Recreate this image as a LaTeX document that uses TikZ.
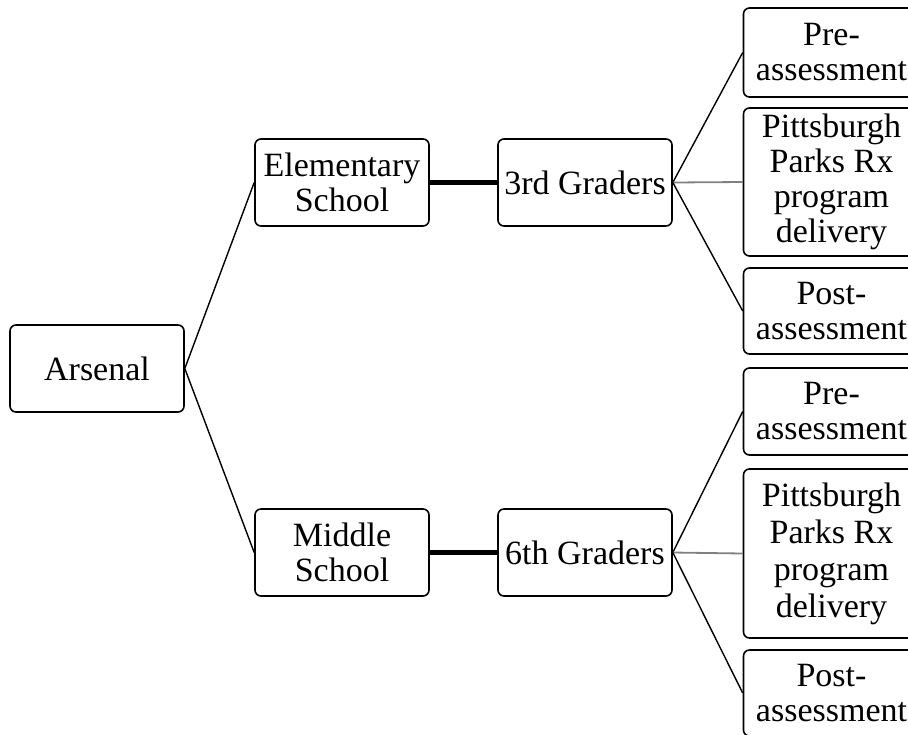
\documentclass[tikz,border=0pt]{standalone}
\usepackage{fontspec}
\setmainfont{Liberation Serif}
\usetikzlibrary{positioning}

\begin{document}
\begin{tikzpicture}[x=0.5pt,y=-0.5pt,
        every node/.style={draw,rounded corners=3pt,line width=0.8pt,align=center,
            minimum width=87pt,minimum height=43.5pt,inner sep=1pt,
            font=\fontsize{17}{17.5}\selectfont},
        step box/.style={minimum width=88pt},
        link/.style={line width=0.7pt},
        bar/.style={line width=2.6pt},
        graylink/.style={line width=0.9pt,gray}]

    \useasboundingbox (0,0) rectangle (908,734);

    % school level
    \node (arsenal) at (97,368.5) {Arsenal};
    \node (elem) at (342,182.5) {Elementary\\School};
    \node (middle) at (342,552.5) {Middle\\School};
    \node (third) at (585,182.5) {3rd Graders};
    \node (sixth) at (585,552.5) {6th Graders};

    % program steps, upper group (cut off at the right edge)
    \node[step box,minimum height=44.5pt] (preA) at (831.5,52.5) {Pre-\\assessment};
    \node[step box,minimum height=74pt] (pitA) at (831.5,182) {Pittsburgh\\Parks Rx\\program\\delivery};
    \node[step box,minimum height=43pt] (postA) at (831.5,311) {Post-\\assessment};

    % program steps, lower group
    \node[step box,minimum height=43.5pt] (preB) at (831.5,411.5) {Pre-\\assessment};
    \node[step box,minimum height=84.5pt,font=\fontsize{17}{18.5}\selectfont] (pitB) at (831.5,553.5) {Pittsburgh\\Parks Rx\\program\\delivery};
    \node[step box,minimum height=43pt] (postB) at (831.5,693) {Post-\\assessment};

    \draw[link] (arsenal.east) -- (elem.west);
    \draw[link] (arsenal.east) -- (middle.west);
    \draw[bar] (elem.east) -- (third.west);
    \draw[bar] (middle.east) -- (sixth.west);

    \draw[link] (third.east) -- (preA.west);
    \draw[graylink] (third.east) -- (pitA.west);
    \draw[link] (third.east) -- (postA.west);

    \draw[link] (sixth.east) -- (preB.west);
    \draw[graylink] (sixth.east) -- (pitB.west);
    \draw[link] (sixth.east) -- (postB.west);

\end{tikzpicture}
\end{document}
